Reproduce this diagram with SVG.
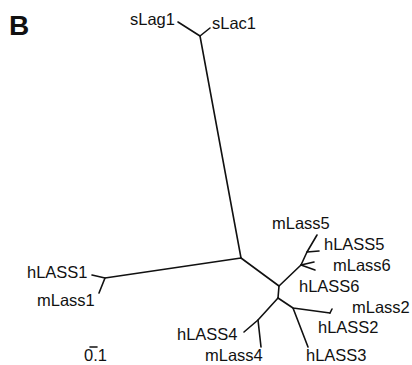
<svg xmlns="http://www.w3.org/2000/svg" width="412" height="365" viewBox="0 0 412 365">
  <style>
    .br { fill: none; stroke: #111; stroke-width: 1.6; stroke-linecap: round; stroke-linejoin: round; }
    .lb { font-family: "Liberation Sans", Arial, sans-serif; font-size: 16.5px; fill: #111; }
    .panel { font-family: "Liberation Sans", Arial, sans-serif; font-size: 28px; font-weight: bold; fill: #111; }
  </style>
  <rect width="412" height="365" fill="#fff"/>

  <text class="panel" x="9" y="35">B</text>

  <!-- unrooted tree branches -->
  <g id="branches" class="br">
    <!-- sLag1 / sLac1 pair and trunk -->
    <path d="M178,22 L200,36 L210,28"/>
    <path d="M200,36 L241,258"/>
    <!-- hLASS1 / mLass1 pair -->
    <path d="M241,258 L105,278"/>
    <path d="M92,275 L105,278 L99,293"/>
    <!-- central split -->
    <path d="M241,258 L279,286 L278,298"/>
    <!-- Lass5 / Lass6 clade -->
    <path d="M279,286 L301,265 L307,252 L317,235"/>
    <path d="M307,252 L319,251"/>
    <path d="M301,265 L314,262"/>
    <path d="M301,265 L315,270"/>
    <!-- Lass4 pair -->
    <path d="M278,298 L258,320 L244,332"/>
    <path d="M258,320 L261,347"/>
    <!-- Lass2 / Lass3 -->
    <path d="M278,298 L293,308 L330,313"/>
    <path d="M330,313 L332,309"/>
    <path d="M293,308 L308,347"/>
  </g>

  <g id="sLag1"><text class="lb" x="130" y="25">sLag1</text></g>
  <g id="sLac1"><text class="lb" x="212" y="29">sLac1</text></g>
  <g id="hLASS1"><text class="lb" x="27" y="278">hLASS1</text></g>
  <g id="mLass1"><text class="lb" x="37" y="306">mLass1</text></g>
  <g id="mLass5"><text class="lb" x="272" y="229">mLass5</text></g>
  <g id="hLASS5"><text class="lb" x="324" y="250">hLASS5</text></g>
  <g id="mLass6"><text class="lb" x="333" y="271">mLass6</text></g>
  <g id="hLASS6"><text class="lb" x="299" y="292">hLASS6</text></g>
  <g id="mLass2"><text class="lb" x="352" y="313">mLass2</text></g>
  <g id="hLASS2"><text class="lb" x="318" y="333">hLASS2</text></g>
  <g id="hLASS4"><text class="lb" x="177" y="340">hLASS4</text></g>
  <g id="mLass4"><text class="lb" x="205" y="361">mLass4</text></g>
  <g id="hLASS3"><text class="lb" x="306" y="361">hLASS3</text></g>

  <!-- scale bar -->
  <g id="scale">
    <path class="br" d="M90,347 L97,347"/>
    <text class="lb" x="84" y="361">0.1</text>
  </g>
</svg>
